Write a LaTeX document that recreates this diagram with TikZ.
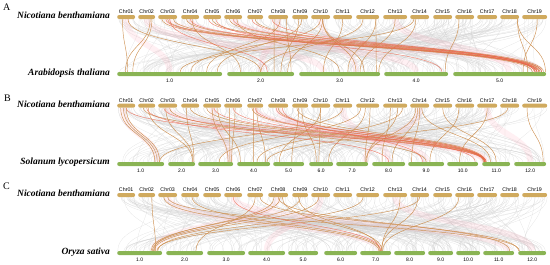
\documentclass[tikz,border=0pt]{standalone}
\usepackage{fontspec}
\setmainfont{Liberation Serif}
\newfontfamily\chrfont{Liberation Sans}
\usetikzlibrary{positioning,calc}

\definecolor{nbgold}{RGB}{208,170,94}
\definecolor{chrgreen}{RGB}{138,180,84}
\definecolor{linkorange}{RGB}{206,146,84}
\definecolor{linkred}{RGB}{238,96,72}
\definecolor{bandpink}{RGB}{255,170,186}
\definecolor{bggray}{RGB}{205,205,205}

% link from a point of a top chromosome to a point of a bottom one
\newcommand{\synlink}[5][]{%
  \path ($(#2.south west)!#3!(#2.south east)$) coordinate (lnktop)
        ($(#4.north west)!#5!(#4.north east)$) coordinate (lnkbot);
  \draw[#1] (lnktop) .. controls ($(lnktop)!0.5!(lnktop|-lnkbot)$) and ($(lnkbot)!0.5!(lnkbot|-lnktop)$) .. (lnkbot);}

\begin{document}
\begin{tikzpicture}[x=1pt, y=-1pt, node distance=1pt]
\tikzset{nbchr/.style={fill=nbgold, rounded corners=2pt, inner sep=0, minimum height=4pt, anchor=west},
         refchr/.style={fill=chrgreen, rounded corners=2pt, inner sep=0, minimum height=4pt, anchor=west},
         chrlbl/.style={font=\chrfont\fontsize{5.3}{6}\selectfont, inner sep=0},
         numlbl/.style={font=\chrfont\fontsize{5}{6}\selectfont, inner sep=0},
         species/.style={font=\bfseries\itshape\fontsize{9.5}{11}\selectfont, inner sep=0, anchor=east},
         panel/.style={font=\fontsize{10}{12}\selectfont, inner sep=0, anchor=base west},
         bglink/.style={bggray, line width=0.25pt, opacity=0.55},
         plink/.style={bandpink, line width=6pt, opacity=0.18},
         olink/.style={linkorange, line width=0.45pt},
         rlink/.style={linkred, line width=0.45pt, opacity=0.75}}
\useasboundingbox (0,0) rectangle (550,265);

% Nicotiana chromosomes, same in all three panels
\foreach \p/\yy in {A/17,B/105.7,C/195}{
  \foreach \s/\e/\k [count=\i] in {117/135/01,138/155/02,158/177/03,181/199/04,203/221/05,224/242/06,247/263/07,268/288/08,292/308/09,311/330/10,333/352/11,356/379/12,383/407/13,410/429/14,433/452/15,455/474/16,477/497/17,500/519/18,522/547/19}{
    \node[nbchr, minimum width={(\e-\s)*1pt}] (nb\p\i) at (\s,\yy) {};
    \node[chrlbl, above=0.8pt of nb\p\i] {Chr\k};
  }
}

% Arabidopsis
\foreach \s/\e [count=\i] in {117/222,227/294,299/380,384/448,453/546}{
  \node[refchr, minimum width={(\e-\s)*1pt}] (at\i) at (\s,74) {};
  \node[numlbl, below=2.2pt of at\i] {\i.0};
}
% Solanum
\foreach \s/\e [count=\i] in {117/164,168/195,198/233,237/270,273/304,309/333,336/368,372/405,408/444,447/478,482/510,514/546}{
  \node[refchr, minimum width={(\e-\s)*1pt}] (sl\i) at (\s,164) {};
  \node[numlbl, below=2.2pt of sl\i] {\i.0};
}
% Oryza
\foreach \s/\e [count=\i] in {117/162,166/203,207/245,248/285,288/318,324/357,360/391,394/425,428/453,456/480,483/514,518/546}{
  \node[refchr, minimum width={(\e-\s)*1pt}] (os\i) at (\s,253) {};
  \node[numlbl, below=2.2pt of os\i] {\i.0};
}

\node[panel] (pA) at (3,10.5) {A};
\node[panel] (pB) at (4,101) {B};
\node[panel] (pC) at (3,189.5) {C};
\node[species] (spA1) at (110,15) {Nicotiana benthamiana};
\node[species] (spA2) at (110,73) {Arabidopsis thaliana};
\node[species] (spB1) at (110,104.3) {Nicotiana benthamiana};
\node[species] (spB2) at (110,162.5) {Solanum lycopersicum};
\node[species] (spC1) at (110,193) {Nicotiana benthamiana};
\node[species] (spC2) at (110,252) {Oryza sativa};

% grey background links
\pgfmathsetseed{4711}
\foreach \n in {1,...,260}{
  \pgfmathrandominteger{\ta}{1}{19}\pgfmathrandominteger{\tb}{1}{5}
  \pgfmathsetmacro{\fa}{rnd}\pgfmathsetmacro{\fb}{rnd}
  \synlink[bglink]{nbA\ta}{\fa}{at\tb}{\fb}
  \pgfmathrandominteger{\ta}{1}{19}\pgfmathrandominteger{\tb}{1}{12}
  \pgfmathsetmacro{\fa}{rnd}\pgfmathsetmacro{\fb}{rnd}
  \synlink[bglink]{nbB\ta}{\fa}{sl\tb}{\fb}
  \pgfmathrandominteger{\ta}{1}{19}\pgfmathrandominteger{\tb}{1}{12}
  \pgfmathsetmacro{\fa}{rnd}\pgfmathsetmacro{\fb}{rnd}
  \synlink[bglink]{nbC\ta}{\fa}{os\tb}{\fb}
}

% panel A
\foreach \a/\fa/\b/\fb in {3/.5/5/.9,6/.5/5/.93,4/.5/4/.5,8/.5/2/.5,1/.5/1/.5,10/.5/3/.7,13/.5/5/.6,2/.5/3/.3}
  {\synlink[plink]{nbA\a}{\fa}{at\b}{\fb}}
\foreach \a/\fa/\b/\fb in {1/.3/1/.1,2/.7/1/.08,2/.8/1/.15,1/.6/2/.5,3/.2/5/.85,3/.5/5/.9,3/.8/5/.92,4/.3/5/.88,4/.6/2/.2,5/.5/5/.95,6/.3/5/.93,6/.7/3/.5,7/.5/5/.97,8/.3/2/.7,8/.6/1/.85,8/.9/2/.95,9/.4/2/.8,9/.6/1/.95,10/.6/2/.9,10/.6/3/.7,10/.6/3/.8,10/.5/1/.7,12/.85/3/.95,12/.85/3/.6,13/.5/3/.75,14/.3/3/.98,14/.2/1/.6,16/.2/4/.95,18/.9/5/.8,18/.9/5/.99,19/.6/5/.75,12/.3/2/.5,11/.5/3/.3}
  {\synlink[olink]{nbA\a}{\fa}{at\b}{\fb}}
\foreach \a/\fa/\b/\fb in {3/.4/5/.9,4/.5/5/.92,5/.3/5/.88,6/.5/5/.95,7/.3/5/.9,8/.2/5/.87,3/.6/2/.6,5/.7/4/.9}
  {\synlink[rlink]{nbA\a}{\fa}{at\b}{\fb}}

% panel B
\foreach \a/\fa/\b/\fb in {3/.5/11/.1,7/.5/11/.1,8/.5/9/.5,1/.3/1/.85,14/.5/7/.9,17/.5/12/.5,5/.5/3/.9,11/.5/8/.5}
  {\synlink[plink]{nbB\a}{\fa}{sl\b}{\fb}}
\foreach \a/\fa/\b/\fb in {1/.2/1/.8,1/.35/1/.85,1/.5/1/.9,2/.6/2/.9,3/.4/2/.92,4/.3/2/.95,2/.3/11/.1,5/.5/3/.85,6/.3/3/.9,6/.6/3/.95,5/.8/4/.1,7/.4/4/.5,7/.6/4/.85,4/.5/11/.15,5/.2/11/.1,7/.3/11/.05,8/.5/11/.08,9/.3/11/.12,3/.6/9/.5,9/.4/5/.6,9/.6/6/.3,10/.5/6/.4,10/.5/5/.2,12/.6/7/.9,12/.4/6/.8,13/.6/7/.95,13/.3/8/.3,14/.3/7/.92,14/.5/9/.1,14/.4/8/.6,14/.6/11/.3,13/.8/4/.6,12/.2/3/.6,16/.2/9/.6,17/.5/10/.4,18/.4/4/.9,19/.2/12/.9,11/.5/1/.9,15/.5/11/.5}
  {\synlink[olink]{nbB\a}{\fa}{sl\b}{\fb}}
\foreach \a/\fa/\b/\fb in {1/.5/11/.1,3/.3/11/.12,5/.6/11/.15,7/.5/11/.08,8/.4/11/.1,6/.5/10/.9,8/.7/9/.4,2/.5/8/.5}
  {\synlink[rlink]{nbB\a}{\fa}{sl\b}{\fb}}

% panel C
\foreach \a/\fa/\b/\fb in {3/.5/7/.65,8/.5/1/.8,13/.5/12/.5,6/.5/11/.8,10/.5/4/.5}
  {\synlink[plink]{nbC\a}{\fa}{os\b}{\fb}}
\foreach \a/\fa/\b/\fb in {2/.8/1/.85,3/.3/7/.6,4/.6/7/.65,3/.5/12/.05,8/.3/1/.8,9/.5/1/.78,10/.4/1/.82,12/.3/1/.9,8/.6/1/.75,7/.5/2/.8,13/.7/7/.7,14/.4/7/.68,16/.2/7/.72,8/.7/7/.7,9/.4/7/.62,8/.5/11/.85,7/.8/12/.02,14/.5/1/.88}
  {\synlink[olink]{nbC\a}{\fa}{os\b}{\fb}}
\foreach \a/\fa/\b/\fb in {6/.5/7/.66}
  {\synlink[rlink]{nbC\a}{\fa}{os\b}{\fb}}
\end{tikzpicture}
\end{document}
